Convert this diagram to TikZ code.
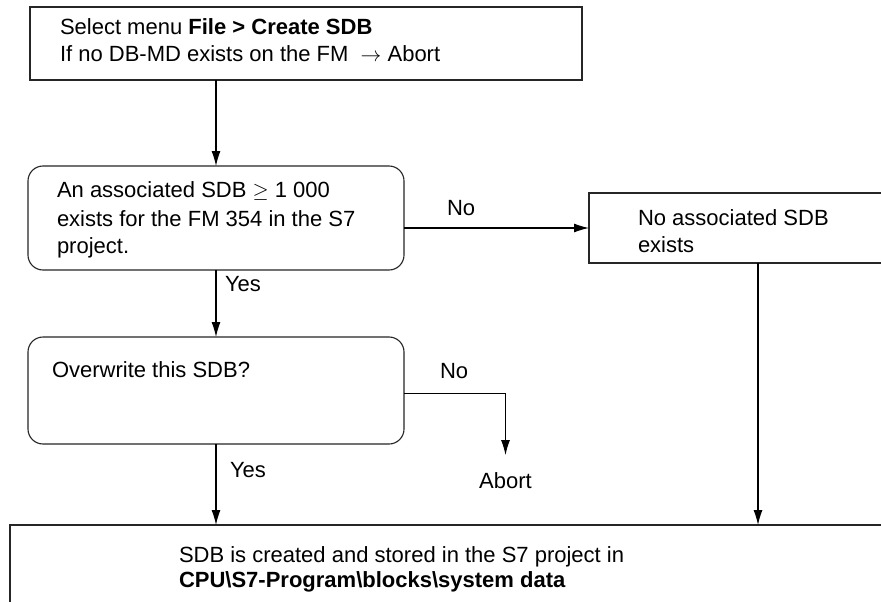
\documentclass[tikz,border=0pt]{standalone}
\usepackage{fontspec}
\setmainfont{Liberation Sans}
\usetikzlibrary{arrows.meta}
\begin{document}
\begin{tikzpicture}[x=1pt,y=-1pt,
  box/.style={draw=black!85,line width=1.1pt,rectangle,outer sep=0pt,inner sep=0pt,anchor=north west},
  rbox/.style={box,rounded corners=15pt},
  lbl/.style={inner sep=0pt,outer sep=0pt,anchor=base west,font=\fontsize{22}{27}\selectfont},
  arr/.style={draw=black,line width=1.1pt,-{Latex[length=15pt,width=9pt]}}]
\useasboundingbox (0,0) rectangle (881,602);
\clip (0,0) rectangle (881,602);
\fill[white] (0,0) rectangle (881,602);
% boxes
\node[box,minimum width=552pt,minimum height=73pt] (top) at (30,7) {};
\node[rbox,minimum width=376pt,minimum height=104pt] (d1) at (28,166) {};
\node[box,minimum width=338pt,minimum height=70pt] (nobox) at (589,193) {};
\node[rbox,minimum width=376pt,minimum height=107pt] (d2) at (28,337) {};
\node[box,minimum width=900pt,minimum height=100pt] (bot) at (10,525) {};
% texts
\node[lbl] (t1a) at (60,35) {Select menu \textbf{File > Create SDB}};
\node[lbl] (t1b) at (60,62) {If no DB-MD exists on the FM\ \ $\rightarrow$ Abort};
\node[lbl] (d1a) at (57,197) {An associated SDB\ $\geq$\ 1 000};
\node[lbl] (d1b) at (57,226) {exists for the FM 354 in the S7};
\node[lbl] (d1c) at (57,253) {project.};
\node[lbl] (nba) at (638,225) {No associated SDB};
\node[lbl] (nbb) at (638,252) {exists};
\node[lbl] (no1) at (447,215) {No};
\node[lbl] (yes1) at (225,291) {Yes};
\node[lbl] (d2a) at (52,377) {Overwrite this SDB?};
\node[lbl] (no2) at (440,378) {No};
\node[lbl] (yes2) at (230,477) {Yes};
\node[lbl,anchor=base] (abort) at (505.5,488) {Abort};
\node[lbl] (bta) at (179,562) {SDB is created and stored in the S7 project in};
\node[lbl] (btb) at (179,587) {\textbf{CPU\textbackslash S7-Program\textbackslash blocks\textbackslash system data}};
% connectors
\draw[arr] (d1.north |- top.south) -- (d1.north);
\draw[arr] (d1.east |- nobox.west) -- (nobox.west);
\draw[arr] (d1.south) -- (d1.south |- d2.north);
\draw[arr,shorten >=17pt] (d2.east) ++(0,3) -| (abort.north);
\draw[arr] (d2.south) -- (d2.south |- bot.north);
\draw[arr] (nobox.south) -- (nobox.south |- bot.north);
\end{tikzpicture}
\end{document}
